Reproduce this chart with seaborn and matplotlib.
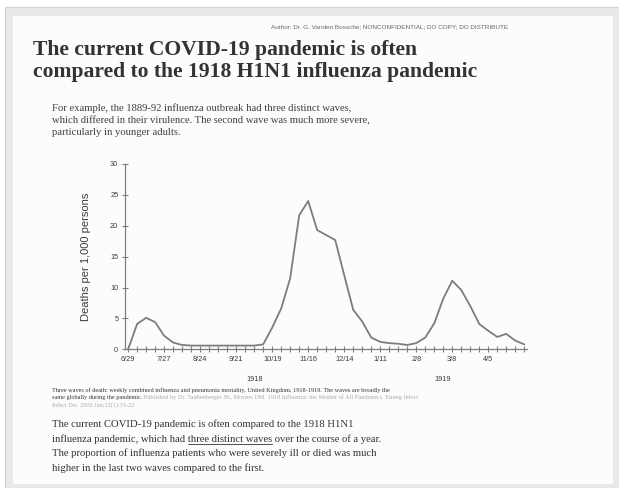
import numpy as np
import pandas as pd
import seaborn as sns
import matplotlib.pyplot as plt
from matplotlib.patches import Rectangle
from matplotlib.lines import Line2D

# Weekly combined influenza/pneumonia deaths per 1,000, UK, 1918-1919
weeks = list(range(45))
deaths = [0.0, 4.1, 5.1, 4.4, 2.2, 1.1, 0.7, 0.6, 0.6, 0.6, 0.6, 0.6, 0.6, 0.6, 0.6,
          0.8, 3.5, 6.6, 11.5, 21.7, 24.0, 19.3, 18.5, 17.7, 12.0, 6.4, 4.5, 1.9, 1.2, 1.0,
          0.9, 0.7, 1.0, 1.9, 4.2, 8.2, 11.1, 9.6, 7.0, 4.1, 3.0, 2.0, 2.5, 1.4, 0.8]
label_weeks = [0, 4, 8, 12, 16, 20, 24, 28, 32, 36, 40]
week_labels = ["6/29", "7/27", "8/24", "9/21", "10/19", "11/16", "12/14", "1/11", "2/8", "3/8", "4/5"]
years = ["1918", "1919"]
year_pos = [14.1, 34.9]

title = ["The current COVID-19 pandemic is often",
         "compared to the 1918 H1N1 influenza pandemic"]
author = "Author: Dr. G. Vanden Bossche; NONCONFIDENTIAL; DO COPY; DO DISTRIBUTE"
intro = ["For example, the 1889-92 influenza outbreak had three distinct waves,",
         "which differed in their virulence. The second wave was much more severe,",
         "particularly in younger adults."]
caption1 = ("Three waves of death: weekly combined influenza and pneumonia mortality, "
            "United Kingdom, 1918-1919. The waves are broadly the")
caption2 = "same globally during the pandemic."
source2 = (" Published by Dr. Taubenberger JK, Morens DM. 1918 Influenza: the Mother of "
           "All Pandemics. Emerg Infect")
source3 = "Infect Dis. 2006 Jan;12(1):15-22"
body = ["The current COVID-19 pandemic is often compared to the 1918 H1N1",
        "influenza pandemic, which had three distinct waves over the course of a year.",
        "The proportion of influenza patients who were severely ill or died was much",
        "higher in the last two waves compared to the first."]
underlined = "three distinct waves"

W, H = 619, 488
SERIF = "Liberation Serif"
SANS = "Liberation Sans"

sns.set_theme(style="white")
plt.rcParams["font.family"] = [SANS, "DejaVu Sans"]


def fx(px):
    return px / W


def fy(py):
    return 1 - py / H


fig = plt.figure(figsize=(W / 100, H / 100), dpi=100)
fig.patch.set_facecolor("white")

# slide frame
fig.patches.append(Rectangle((fx(5), fy(488)), fx(614), (488 - 7) / H, transform=fig.transFigure,
                             facecolor="#e9e9e9", edgecolor="#d4d4d4", linewidth=0.8, zorder=-2))
fig.patches.append(Rectangle((fx(13), fy(484)), fx(600), (484 - 16) / H, transform=fig.transFigure,
                             facecolor="#fcfcfb", edgecolor="none", zorder=-1))

# chart
ax = fig.add_axes([fx(124.5), fy(349.3), (527 - 124.5) / W, (349.3 - 164) / H])
ax.set_facecolor("none")
df = pd.DataFrame({"week": weeks, "deaths": deaths})
sns.lineplot(data=df, x="week", y="deaths", ax=ax, color="#7d7d7d", linewidth=1.3)

ax.set_xlim(-0.4, 44.3)
ax.set_ylim(0, 30)
ax.set_xticks(label_weeks)
ax.set_xticklabels(week_labels)
ax.set_xticks(weeks, minor=True)
ax.set_yticks(range(0, 31, 5))
ax.tick_params(axis="both", which="both", direction="inout", color="#7d7d7d", width=0.8,
               bottom=True, left=True, labelsize=5.3, labelcolor="#3c3c3c", pad=3)
ax.tick_params(axis="x", which="both", length=4)
ax.tick_params(axis="y", which="both", length=5, pad=2)
for side in ["top", "right"]:
    ax.spines[side].set_visible(False)
for side in ["left", "bottom"]:
    ax.spines[side].set_color("#7d7d7d")
    ax.spines[side].set_linewidth(0.9)
ax.set_xlabel("")
ax.set_ylabel("Deaths per 1,000 persons", fontsize=8, color="#3c3c3c")
ax.yaxis.set_label_coords(-0.082, 0.5)
for yr, pos in zip(years, year_pos):
    ax.text(pos, -0.165, yr, transform=ax.get_xaxis_transform(), ha="center", va="center",
            fontsize=5.3, color="#3c3c3c")

# slide texts
fig.text(fx(508), fy(27), author, ha="right", va="center", fontsize=4.6, color="#666666")
for i, line in enumerate(title):
    fig.text(fx(33), fy(55 + 22.5 * i), line, ha="left", va="baseline", fontsize=15.6,
             fontweight="bold", family=SERIF, color="#333333")
for i, line in enumerate(intro):
    fig.text(fx(52), fy(110.7 + 12.3 * i), line, ha="left", va="baseline", fontsize=7.7,
             family=SERIF, color="#404040")

fig.text(fx(52), fy(392), caption1, ha="left", va="baseline", fontsize=4.5, family=SERIF,
         color="#333333")
cap2 = fig.text(fx(52), fy(399.5), caption2, ha="left", va="baseline", fontsize=4.5,
                family=SERIF, color="#333333")
fig.text(fx(52), fy(407), source3, ha="left", va="baseline", fontsize=4.5, family=SERIF,
         color="#aaaaaa")

BODY_FS = 7.7
for i, line in enumerate(body):
    fig.text(fx(52), fy(427.3 + 14.5 * i), line, ha="left", va="baseline", fontsize=BODY_FS,
             family=SERIF, color="#333333")

# grey source after the black caption piece, and the underline in the body text
fig.canvas.draw()
r = fig.canvas.get_renderer()
bb = cap2.get_window_extent(r)
fig.text(bb.x1 / W, fy(399.5), source2, ha="left", va="baseline", fontsize=4.5, family=SERIF,
         color="#aaaaaa")

line2 = body[1]
k = line2.index(underlined) + len(underlined)
probe = fig.text(fx(52), 0.5, line2[:k], fontsize=BODY_FS, family=SERIF)
probe_u = fig.text(fx(52), 0.5, underlined, fontsize=BODY_FS, family=SERIF)
x_end = probe.get_window_extent(r).x1
x_start = x_end - probe_u.get_window_extent(r).width
probe.remove()
probe_u.remove()
yline = fy(427.3 + 14.5 + 2.0)
fig.add_artist(Line2D([x_start / W, x_end / W], [yline, yline], transform=fig.transFigure,
                      color="#333333", linewidth=0.6))

fig.savefig("out.png", dpi=100)
